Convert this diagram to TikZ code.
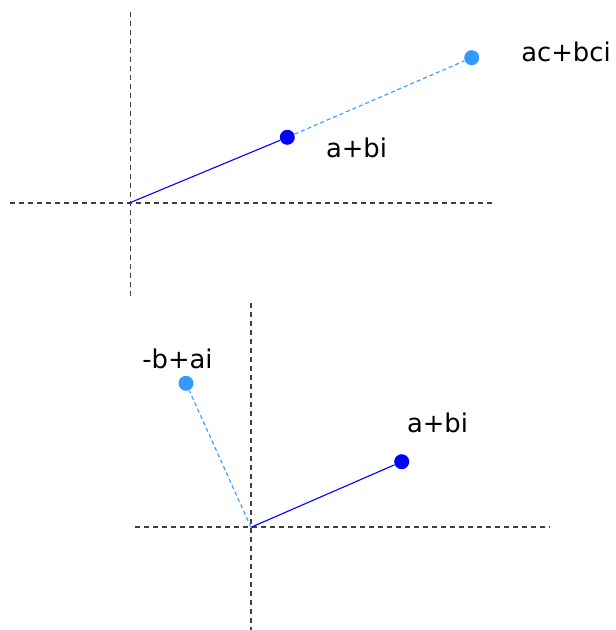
\documentclass[tikz,border=0pt]{standalone}
\usepackage{fontspec}
\setmainfont{DejaVu Sans}
\definecolor{darkdot}{RGB}{0,0,255}
\definecolor{lightdot}{RGB}{51,153,255}
\tikzset{
  axis/.style={draw=black!75,line width=0.6pt,dash pattern=on 2.5pt off 2pt},
  vec/.style={draw=darkdot,line width=0.55pt},
  rotvec/.style={draw=lightdot,line width=0.55pt,dash pattern=on 2pt off 1.5pt},
  dotA/.style={circle,fill=darkdot,inner sep=0pt,minimum size=7.5pt},
  dotB/.style={circle,fill=lightdot,inner sep=0pt,minimum size=7.5pt},
  lbl/.style={anchor=base,inner sep=0pt,font=\fontsize{12.9}{15}\selectfont}
}
\begin{document}
\begin{tikzpicture}[x=0.5pt,y=-0.5pt]
\useasboundingbox (0,0) rectangle (615,630);

% upper plane: multiply by c
\coordinate (o1) at (130.5,202.5);
\draw[axis] (10,203) -- (493,203);
\draw[axis] (130.5,12) -- (130.5,297);
\node[dotA] (p1) at (287.3,137.3) {};
\node[dotB] (q1) at (471.7,57.7) {};
\draw[rotvec] (p1) -- (q1);
\draw[vec] (o1) -- (p1);
\node[lbl] (lp1) at (356.5,157.3) {a+bi};
\node[lbl] (lq1) at (566,61.7) {ac+bci};

% lower plane: multiply by i
\coordinate (o2) at (251,527.3);
\draw[axis] (135,527) -- (550,527);
\draw[axis] (251,303) -- (251,630);
\node[dotA] (p2) at (401.7,461.7) {};
\node[dotB] (q2) at (186,383.3) {};
\draw[vec] (o2) -- (p2);
\draw[rotvec] (o2) -- (q2);
\node[lbl] (lp2) at (437.5,432.7) {a+bi};
\node[lbl] (lq2) at (177.5,368.3) {-b+ai};
\end{tikzpicture}
\end{document}
